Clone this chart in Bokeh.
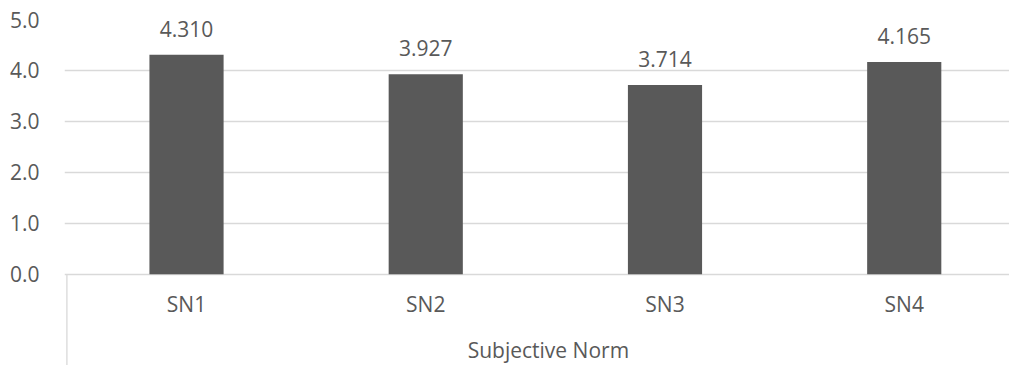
from bokeh.plotting import figure
from bokeh.models import Range1d, FixedTicker, ColumnDataSource
from bokeh.core.properties import value
from bokeh.embed import file_html
from bokeh.resources import INLINE

# Mean scores per item of the "Subjective Norm" construct
categories = ["SN1", "SN2", "SN3", "SN4"]
scores = [4.310, 3.927, 3.714, 4.165]
group_label = "Subjective Norm"
y_ticks = [0, 1, 2, 3, 4, 5]
y_tick_labels = ["0.0", "1.0", "2.0", "3.0", "4.0", "5.0"]

FONT = "Open Sans"
FONT_SIZE = "21px"
TEXT_COLOR = "#595959"
GRID_COLOR = "#d9d9d9"
BAR_COLOR = "#595959"

# category slots sit at 0.5, 1.5, ... on a numeric x scale
xs = [i + 0.5 for i in range(len(categories))]
labels = ["%.3f" % v for v in scores]

src = ColumnDataSource(dict(x=xs, top=scores, lab=labels, cat=categories))

p = figure(width=1009, height=365, output_backend="svg", toolbar_location=None,
           x_range=Range1d(-0.01, 3.94), y_range=Range1d(-1.792, 5),
           min_border_left=64, min_border_right=0, min_border_top=19,
           min_border_bottom=0, background_fill_color="white",
           border_fill_color="white")
p.outline_line_color = None
p.xaxis.visible = False
p.xgrid.visible = False

# value axis: labels only, grid at each whole unit
yax = p.yaxis[0]
yax.ticker = FixedTicker(ticks=y_ticks)
yax.major_label_overrides = {t: s for t, s in zip(y_ticks, y_tick_labels)}
yax.axis_line_color = None
yax.major_tick_line_color = None
yax.minor_tick_line_color = None
yax.major_label_standoff = 19
yax.major_label_text_font = FONT
yax.major_label_text_font_size = FONT_SIZE
yax.major_label_text_color = TEXT_COLOR
p.ygrid.ticker = FixedTicker(ticks=y_ticks)
p.ygrid.grid_line_color = GRID_COLOR
p.ygrid.grid_line_width = 1.3

# bars
p.vbar(x="x", top="top", bottom=0, width=0.31, source=src,
       fill_color=BAR_COLOR, line_color=None)

# value labels above the bars
p.text(x="x", y="top", text="lab", source=src, y_offset=-26,
       text_align="center", text_baseline="alphabetic",
       text_font=value(FONT), text_font_size=FONT_SIZE, text_color=TEXT_COLOR)

# category labels under the baseline
p.text(x="x", y=0, text="cat", source=src, y_offset=30,
       text_align="center", text_baseline="alphabetic",
       text_font=value(FONT), text_font_size=FONT_SIZE, text_color=TEXT_COLOR)

# group label across all categories
p.text(x=[len(categories) / 2], y=[0], text=[group_label], y_offset=76,
       x_offset=3, text_align="center", text_baseline="alphabetic",
       text_font=value(FONT), text_font_size=FONT_SIZE, text_color=TEXT_COLOR)

# left separator of the category group
p.segment(x0=[0], y0=[0], x1=[0], y1=[-1.792], line_color=GRID_COLOR,
          line_width=1.3)

open("out.html", "w").write(file_html(p, INLINE))
